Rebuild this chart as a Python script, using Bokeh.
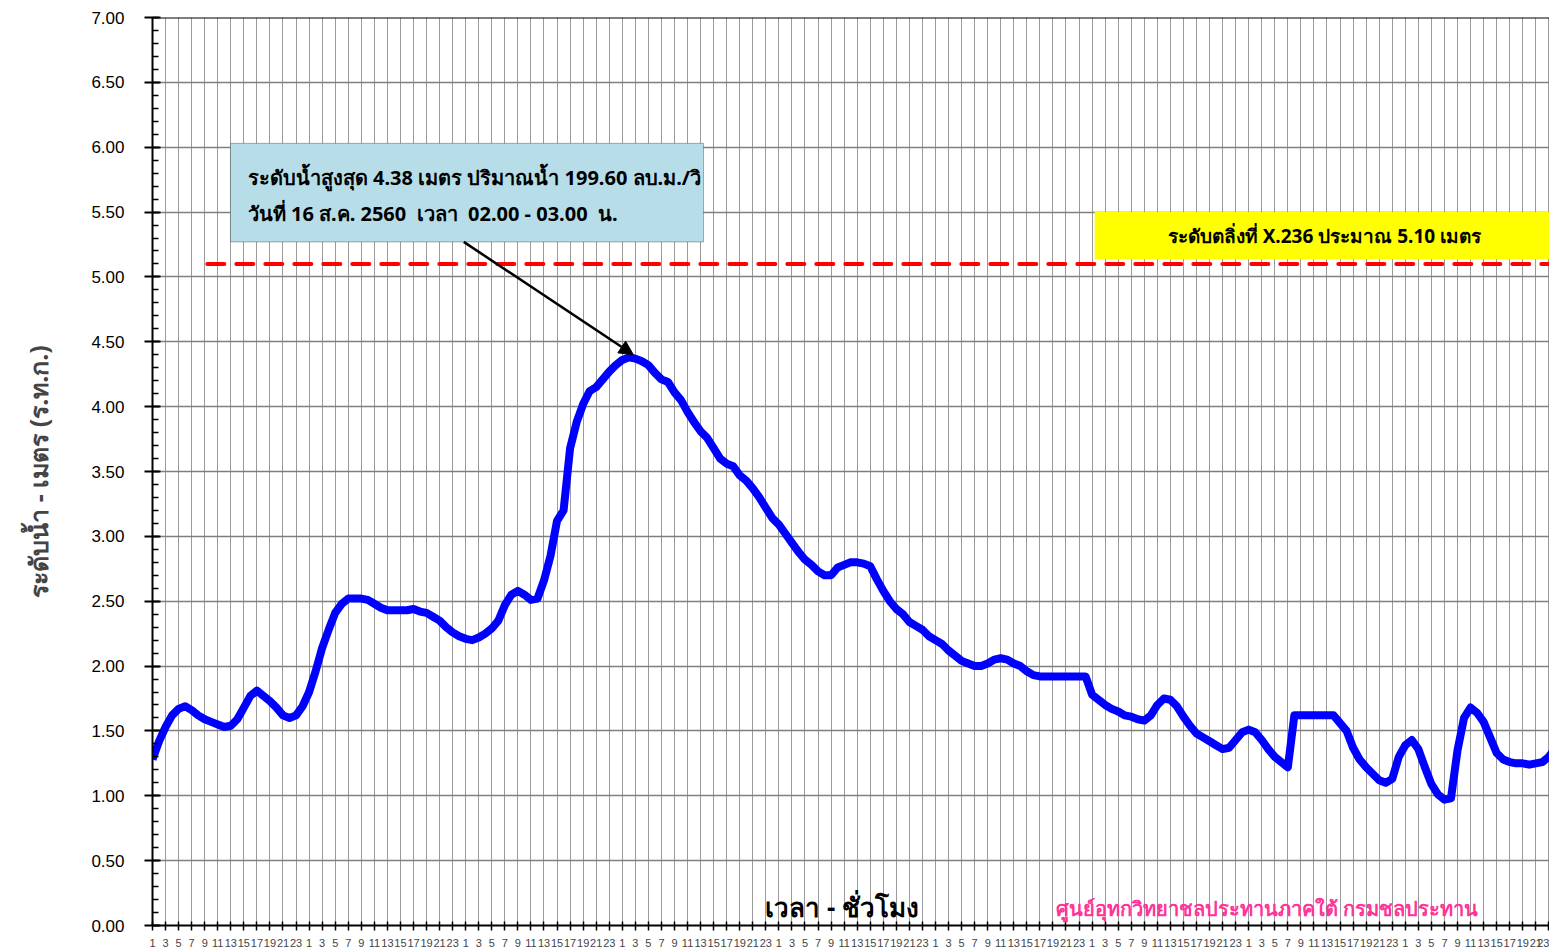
from bokeh.plotting import figure
from bokeh.models import (Range1d, FixedTicker, SingleIntervalTicker, NumeralTickFormatter,
                          BoxAnnotation, Label, Arrow, NormalHead, Span)
from bokeh.embed import file_html
from bokeh.resources import INLINE

# ---------------- data (hourly water level, m MSL) ----------------
water_level = [
    1.28, 1.42, 1.53, 1.62, 1.67, 1.69, 1.66, 1.62, 1.59, 1.57, 1.55, 1.53,
    1.54, 1.59, 1.68, 1.77, 1.81, 1.77, 1.73, 1.68, 1.62, 1.60, 1.62, 1.69,
    1.80, 1.96, 2.14, 2.28, 2.41, 2.48, 2.52, 2.52, 2.52, 2.51, 2.48, 2.45,
    2.43, 2.43, 2.43, 2.43, 2.44, 2.42, 2.41, 2.38, 2.35, 2.30, 2.26, 2.23,
    2.21, 2.20, 2.22, 2.25, 2.29, 2.35, 2.47, 2.55, 2.58, 2.55, 2.51, 2.52,
    2.66, 2.85, 3.12, 3.20, 3.68, 3.88, 4.02, 4.12, 4.15, 4.21, 4.27, 4.32,
    4.36, 4.38, 4.37, 4.35, 4.32, 4.26, 4.21, 4.19, 4.11, 4.05, 3.96, 3.88,
    3.81, 3.76, 3.68, 3.60, 3.56, 3.54, 3.47, 3.43, 3.37, 3.30, 3.22, 3.14,
    3.09, 3.02, 2.95, 2.88, 2.82, 2.78, 2.73, 2.70, 2.70, 2.76, 2.78, 2.80,
    2.80, 2.79, 2.77, 2.67, 2.58, 2.50, 2.44, 2.40, 2.34, 2.31, 2.28, 2.23,
    2.20, 2.17, 2.12, 2.08, 2.04, 2.02, 2.00, 2.00, 2.02, 2.05, 2.06, 2.05,
    2.02, 2.00, 1.96, 1.93, 1.92, 1.92, 1.92, 1.92, 1.92, 1.92, 1.92, 1.92,
    1.78, 1.74, 1.70, 1.67, 1.65, 1.62, 1.61, 1.59, 1.58, 1.62, 1.70, 1.75,
    1.74, 1.69, 1.61, 1.54, 1.48, 1.45, 1.42, 1.39, 1.36, 1.37, 1.43, 1.49,
    1.51, 1.49, 1.43, 1.36, 1.30, 1.26, 1.22, 1.62, 1.62, 1.62, 1.62, 1.62,
    1.62, 1.62, 1.56, 1.50, 1.37, 1.28, 1.22, 1.17, 1.12, 1.10, 1.13, 1.30,
    1.39, 1.43, 1.36, 1.22, 1.09, 1.01, 0.97, 0.98, 1.35, 1.60, 1.68, 1.64,
    1.57, 1.45, 1.33, 1.28, 1.26, 1.25, 1.25, 1.24, 1.25, 1.26, 1.30, 1.37,
]
hour_index = list(range(len(water_level)))
label_hours = [1, 3, 5, 7, 9, 11, 13, 15, 17, 19, 21, 23]
bank_level = 5.10

NB = "\u00a0"
y_title = "ระดับน้ำ - เมตร (ร.ท.ก.)"
x_title = "เวลา - ชั่วโมง"
peak_line1 = "ระดับน้ำสูงสุด 4.38 เมตร ปริมาณน้ำ 199.60 ลบ.ม./วิ"
peak_line2 = ("วันที่ 16 ส.ค. 2560" + NB * 2 + "เวลา" + NB * 2 + "02.00 - 03.00" + NB * 2 + "น.")
bank_text = "ระดับตลิ่งที่ X.236 ประมาณ 5.10 เมตร"
credit_text = "ศูนย์อุทกวิทยาชลประทานภาคใต้ กรมชลประทาน"

# ---------------- figure ----------------
THAI = "Noto Sans"
X_END = 214.1

p = figure(width=1549, height=949, output_backend="svg", toolbar_location=None,
           x_range=Range1d(0, X_END), y_range=Range1d(0, 7),
           min_border_left=152, min_border_right=0, min_border_top=17,
           min_border_bottom=22, background_fill_color="white",
           border_fill_color="white", outline_line_color=None)

# ticks
x_ticks = list(range(0, int(X_END) + 2, 2))
x_labels = {t: str(label_hours[(t % 24) // 2]) for t in x_ticks}
p.xaxis.ticker = FixedTicker(ticks=x_ticks)
p.xaxis.major_label_overrides = x_labels
p.xaxis.major_label_text_font = "Liberation Sans"
p.xaxis.major_label_text_font_size = "11px"
p.xaxis.major_label_standoff = 8
p.xaxis.major_tick_in = 4
p.xaxis.major_tick_out = 5
p.xaxis.major_tick_line_width = 1.5
p.xaxis.minor_tick_line_color = None
p.xaxis.axis_line_width = 2
p.xaxis.axis_line_color = "black"

p.yaxis.ticker = SingleIntervalTicker(interval=0.5, num_minor_ticks=5)
p.yaxis.formatter = NumeralTickFormatter(format="0.00")
p.yaxis.major_label_text_font = "Liberation Sans"
p.yaxis.major_label_text_font_size = "17px"
p.yaxis.major_label_text_color = "black"
p.yaxis.major_label_standoff = 20
p.yaxis.major_tick_in = 8
p.yaxis.major_tick_out = 8
p.yaxis.major_tick_line_width = 2
p.yaxis.minor_tick_in = 6
p.yaxis.minor_tick_out = 0
p.yaxis.minor_tick_line_width = 1.5
p.yaxis.axis_line_width = 2
p.yaxis.axis_line_color = "black"
p.yaxis.axis_label = y_title
p.yaxis.axis_label_text_font = THAI
p.yaxis.axis_label_text_font_style = "bold"
p.yaxis.axis_label_text_font_size = "25px"
p.yaxis.axis_label_standoff = 33

# grids
p.xgrid.ticker = FixedTicker(ticks=x_ticks)
p.xgrid.grid_line_color = "#9a9a9a"
p.xgrid.grid_line_width = 1
p.ygrid.grid_line_color = "#808080"
p.ygrid.grid_line_width = 1.5

# top border
p.add_layout(Span(location=7, dimension="width", line_color="black", line_width=2))

# bank level dashed line
p.segment(x0=[8.4], y0=[bank_level], x1=[X_END], y1=[bank_level],
          line_color="#ff0000", line_width=4, line_dash="17 12", line_cap="round")

# water level
p.line(hour_index, water_level, line_color="#0000ff", line_width=8, line_join="round")

# annotation box for peak
p.add_layout(BoxAnnotation(left=11.95, right=84.45, bottom=5.27, top=6.03,
                           fill_color="#b7dee8", fill_alpha=1.0,
                           line_color="black", line_width=1))
p.add_layout(Label(x=14.6, y=5.77, text=peak_line1, text_font=THAI,
                   text_font_style="bold", text_font_size="20px",
                   text_baseline="middle", text_color="black"))
p.add_layout(Label(x=14.6, y=5.49, text=peak_line2, text_font=THAI,
                   text_font_style="bold", text_font_size="20px",
                   text_baseline="middle", text_color="black"))

peak_i = max(hour_index, key=lambda i: water_level[i])
p.add_layout(Arrow(end=NormalHead(size=14, fill_color="black", line_color="black"),
                   x_start=47.7, y_start=5.27,
                   x_end=peak_i + 0.7, y_end=water_level[peak_i] + 0.02,
                   line_color="black", line_width=2.5))

# bank level yellow box
p.add_layout(BoxAnnotation(left=144.4, right=X_END + 2, bottom=5.137, top=5.5,
                           fill_color="#ffff00", fill_alpha=1.0, line_color=None))
p.add_layout(Label(x=179.6, y=5.315, text=bank_text, text_font=THAI,
                   text_font_style="bold", text_font_size="19px",
                   text_align="center", text_baseline="middle", text_color="black"))

# x title inside plot and credit
p.add_layout(Label(x=105.7, y=0.14, text=x_title, text_font=THAI,
                   text_font_style="bold", text_font_size="26px",
                   text_align="center", text_baseline="middle", text_color="black"))
p.add_layout(Label(x=170.8, y=0.13, text=credit_text, text_font=THAI,
                   text_font_style="bold", text_font_size="20px",
                   text_align="center", text_baseline="middle", text_color="#ff3399"))

open("out.html", "w").write(file_html(p, INLINE))
